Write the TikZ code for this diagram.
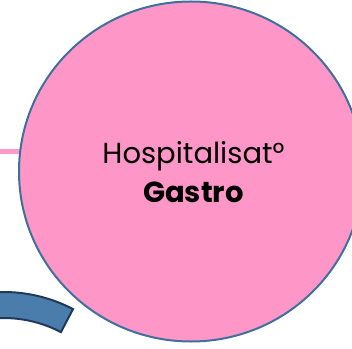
\documentclass[tikz,border=0pt]{standalone}
\usepackage{fontspec}
\setmainfont{Poppins}
\usetikzlibrary{backgrounds,shapes.geometric}
\definecolor{pinkfill}{HTML}{FF96C8}
\definecolor{pinkline}{HTML}{FF99CC}
\definecolor{ringblue}{HTML}{3F6F9C}
\definecolor{bandfill}{HTML}{4A7DAC}
\definecolor{banddraw}{HTML}{1F3A58}
\tikzset{
  bubble/.style={ellipse, minimum width=344pt, minimum height=340pt, fill=pinkfill, draw=ringblue, line width=2pt, inner sep=0pt},
  link/.style={pinkline, line width=5pt},
  band/.style={fill=bandfill, draw=banddraw, line width=2pt, line join=miter},
  label/.style={align=center, font=\fontsize{29}{38.4}\selectfont}
}
\begin{document}
\begin{tikzpicture}[x=1pt,y=1pt]
\useasboundingbox (0,0) rectangle (352,348);
\clip (0,0) rectangle (352,348);
\node[bubble] (c) at (191,176.5) {};
\node[label] (t) at (193.5,176) {Hospitalisat°\\\textbf{Gastro}};
\coordinate (L) at (-5,196.3);
\begin{scope}[on background layer]
\draw[link] (L) -- (L -| c.center);
\end{scope}
\coordinate (o) at (3.5,-94);
\draw[band] ([shift={(62.4:150)}]o) arc[start angle=62.4, end angle=115, radius=150]
  -- ([shift={(115:124)}]o) arc[start angle=115, end angle=62.4, radius=124] -- cycle;
\end{tikzpicture}
\end{document}
